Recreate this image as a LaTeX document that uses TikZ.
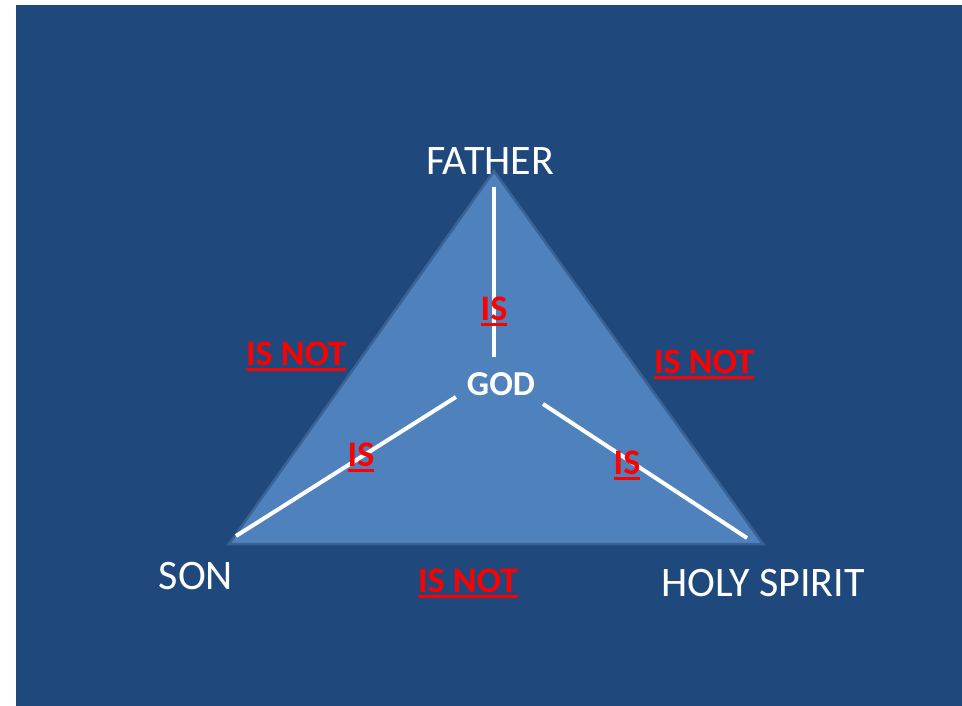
\documentclass[tikz,border=0pt]{standalone}
\usepackage{fontspec}
\setmainfont{Carlito}
\definecolor{bgblue}{HTML}{1F497D}
\definecolor{triblue}{HTML}{4F81BD}
\definecolor{triedge}{HTML}{3A6294}
\definecolor{isred}{HTML}{FF0000}
\newcommand\redul[1]{\vtop{\hbox{#1}\kern2.5pt\hrule height 3.5pt}}
\tikzset{
  person/.style={text=white, font=\fontsize{42}{46}\selectfont, inner sep=0pt},
  godlbl/.style={text=white, font=\bfseries\fontsize{35}{40}\selectfont, inner sep=0pt},
  rel/.style={text=isred, font=\bfseries\fontsize{36}{40}\selectfont, inner sep=0pt},
  link/.style={white, line width=4pt},
}
\begin{document}
\begin{tikzpicture}[x=1pt,y=-1pt]
\useasboundingbox (0,0) rectangle (962,706);
\fill[white] (0,0) rectangle (962,706);
\fill[bgblue] (16,5) rectangle (962,706);
\coordinate (apex) at (494,171);
\coordinate (bl) at (229,544);
\coordinate (br) at (763,544);
\filldraw[fill=triblue, draw=triedge, line width=2.5pt, line join=miter] (apex) -- (bl) -- (br) -- cycle;
\coordinate (v1) at (494,187);
\coordinate (v2) at (494,357);
\coordinate (l1) at (456,397);
\coordinate (l2) at (236,536);
\coordinate (r1) at (543,404);
\coordinate (r2) at (747,538);
\draw[link] (v1) -- (v2);
\draw[link] (l1) -- (l2);
\draw[link] (r1) -- (r2);
\node[person] (father) at (490,161) {FATHER};
\node[person] (son) at (196,576) {SON};
\node[person] (spirit) at (763,583) {HOLY SPIRIT};
\node[godlbl] (god) at (501,384) {GOD};
\node[rel, anchor=base] (is1) at (494,320) {\redul{IS}};
\node[rel, anchor=base] (is2) at (361,466) {\redul{IS}};
\node[rel, anchor=base] (is3) at (627,474) {\redul{IS}};
\node[rel, anchor=base] (not1) at (296,365) {\redul{IS NOT}};
\node[rel, anchor=base] (not2) at (704,373) {\redul{IS NOT}};
\node[rel, anchor=base] (not3) at (468,592) {\redul{IS NOT}};
\end{tikzpicture}
\end{document}
